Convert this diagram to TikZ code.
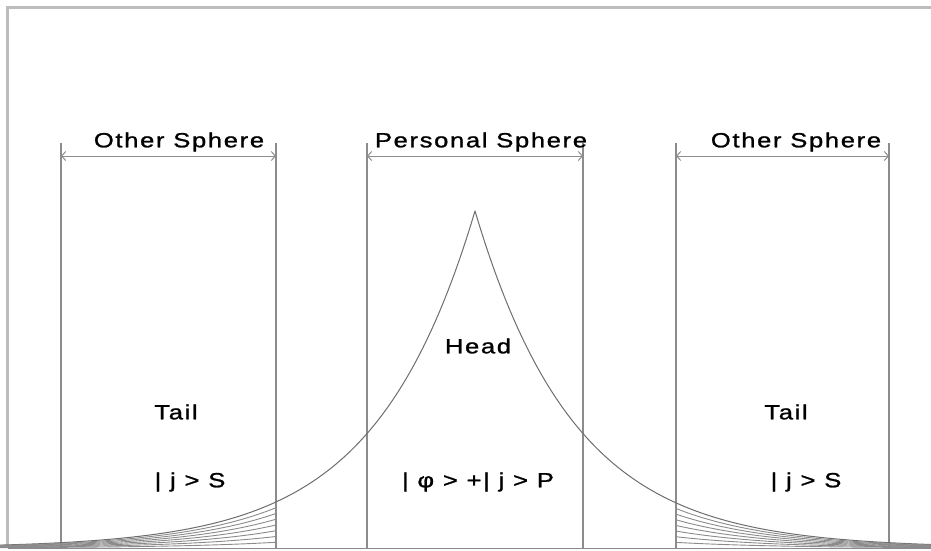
\documentclass[tikz,border=0pt]{standalone}
\usepackage{fontspec}
\setmainfont{Liberation Sans}[LetterSpace=8, FakeStretch=1.25, FakeBold=1.2]
\usetikzlibrary{arrows.meta}
\definecolor{framec}{HTML}{BDBDBD}
\definecolor{linec}{HTML}{8C8C8C}
\definecolor{curvec}{HTML}{6E6E6E}
\tikzset{
  vline/.style={draw=linec, line width=1.1pt},
  span/.style={draw=linec, line width=1pt, {Straight Barb[length=4pt,width=9pt]}-{Straight Barb[length=4pt,width=9pt]}},
  lbl/.style={inner sep=0pt, font=\fontsize{20.5}{24}\selectfont, text=black},
  curve/.style={draw=curvec, line width=1pt},
  hatch/.style={draw=curvec!80, line width=0.9pt},
}
\begin{document}
\begin{tikzpicture}[x=1pt, y=-1pt]
\useasboundingbox (0,0) rectangle (931,550);
\fill[white] (0,0) rectangle (931,550);
% frame
\draw[framec, line width=2.5pt] (931,7.5) -- (7.5,7.5) -- (7.5,548);
\draw[linec, line width=1.5pt] (7.5,548.5) -- (931,548.5);
% vertical sphere bounds
\foreach \n/\xx in {a/61, b/276, c/367, d/583, e/676, f/889}{
  \coordinate (top\n) at (\xx,143);
  \coordinate (bot\n) at (\xx,548);
  \coordinate (arr\n) at (\xx,156);
  \draw[vline] (top\n) -- (bot\n);
}
% spans
\draw[span] (arra) -- (arrb);
\draw[span] (arrc) -- (arrd);
\draw[span] (arre) -- (arrf);
% labels
\node[lbl] (os1) at (179,142) {Other Sphere};
\node[lbl] (ps) at (481,142) {Personal Sphere};
\node[lbl] (os2) at (796,142) {Other Sphere};
\node[lbl] (head) at (478,346) {Head};
\node[lbl] (tail1) at (176,412) {Tail};
\node[lbl] (tail2) at (786,412) {Tail};
\node[lbl] (s1) at (190,482) {| j > S};
\node[lbl] (s2) at (806,482) {| j > S};
\node[lbl] (p) at (478,482) {| φ > +| j > P};
% main curve
\draw[curve] plot[domain=0:475, samples=120] (\x, {548-337*exp((\x-475)/100)})
  -- plot[domain=475:931, samples=120] (\x, {548-337*exp((475-\x)/100)});
% hatching in tails
\foreach \k in {1,...,7}{
  \draw[hatch] plot[domain=0:276, samples=60] (\x, {548-\k/8*337*exp((\x-475)/100)});
  \draw[hatch] plot[domain=676:931, samples=60] (\x, {548-\k/8*337*exp((475-\x)/100)});
}
\end{tikzpicture}
\end{document}
